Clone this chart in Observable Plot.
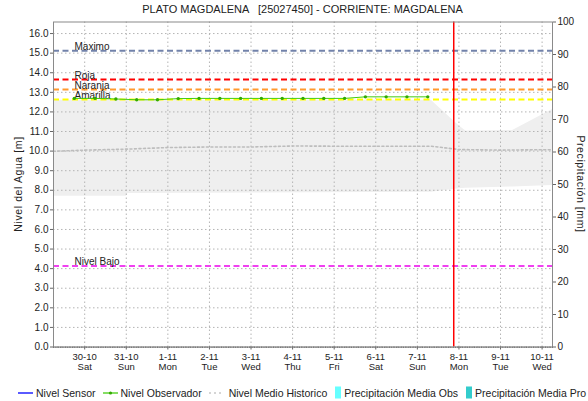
<!DOCTYPE html>
<html><head><meta charset="utf-8">
<script src="https://cdn.jsdelivr.net/npm/d3@7"></script>
<script src="https://cdn.jsdelivr.net/npm/@observablehq/plot@0.6"></script>
<style>
body{margin:0;background:#fff;font-family:"Liberation Sans",Arial,sans-serif;color:#222;}
#wrap{position:relative;width:588px;height:401px;overflow:hidden;}
#chart{position:absolute;left:0;top:0;}
#title{position:absolute;left:53px;width:499px;top:3px;text-align:center;font-size:11px;white-space:pre;color:#222;}
.ylab{position:absolute;white-space:nowrap;font-size:10.5px;letter-spacing:0.6px;color:#222;}
#legend{position:absolute;left:18px;top:386px;display:flex;align-items:center;font-size:10.5px;white-space:nowrap;color:#222;}
#legend .it{display:flex;align-items:center;margin-right:7px;}
#legend svg{margin-right:2px;}
</style></head>
<body>
<div id="wrap">
  <div id="chart"></div>
  <div id="title">PLATO MAGDALENA   [25027450] - CORRIENTE: MAGDALENA</div>
  <div class="ylab" style="left:18px;top:184px;transform:translate(-50%,-50%) rotate(-90deg);">Nivel del Agua [m]</div>
  <div class="ylab" style="left:581px;top:184px;transform:translate(-50%,-50%) rotate(90deg);">Precipitación [mm]</div>
  <div id="legend"></div>
</div>
<script>
// ---- data ----
const xDomain = ["2021-10-29T06:00", "2021-11-10T06:00"];
const dayDates = ["2021-10-30","2021-10-31","2021-11-01","2021-11-02","2021-11-03","2021-11-04","2021-11-05","2021-11-06","2021-11-07","2021-11-08","2021-11-09","2021-11-10"];
const dayLabels = ["30-10","31-10","1-11","2-11","3-11","4-11","5-11","6-11","7-11","8-11","9-11","10-11"];
const weekdays = ["Sat","Sun","Mon","Tue","Wed","Thu","Fri","Sat","Sun","Mon","Tue","Wed"];
const levelTicks = [0,1,2,3,4,5,6,7,8,9,10,11,12,13,14,15,16];
const precipTicks = [0,10,20,30,40,50,60,70,80,90,100];
const levelMax = 16.59;
const precipMax = 100;

const obsTimes = ["2021-10-29T18:00","2021-10-30T06:00","2021-10-30T18:00","2021-10-31T06:00","2021-10-31T18:00","2021-11-01T06:00","2021-11-01T18:00","2021-11-02T06:00","2021-11-02T18:00","2021-11-03T06:00","2021-11-03T18:00","2021-11-04T06:00","2021-11-04T18:00","2021-11-05T06:00","2021-11-05T18:00","2021-11-06T06:00","2021-11-06T18:00","2021-11-07T06:00"];
const obsValues = [12.69,12.69,12.66,12.62,12.62,12.68,12.69,12.69,12.69,12.69,12.69,12.69,12.69,12.69,12.77,12.77,12.77,12.77];

const bandTimes = ["2021-10-29T06:00","2021-10-31T00:00","2021-10-31T01:00","2021-11-07T08:00","2021-11-08T00:00","2021-11-08T04:00","2021-11-09T07:00","2021-11-10T06:00"];
const bandHigh = [12.6,12.6,12.6,12.6,11.3,11.03,11.05,12.12];
const bandLow = [7.69,7.69,7.83,7.9,8.08,8.1,8.17,8.25];

const meanTimes = ["2021-10-29T06:00","2021-10-30T00:00","2021-10-31T00:00","2021-11-01T00:00","2021-11-02T00:00","2021-11-03T00:00","2021-11-04T00:00","2021-11-05T00:00","2021-11-06T00:00","2021-11-07T00:00","2021-11-07T08:00","2021-11-08T00:00","2021-11-09T00:00","2021-11-10T00:00","2021-11-10T06:00"];
const meanValues = [9.99,10.05,10.1,10.18,10.21,10.21,10.26,10.25,10.25,10.25,10.25,10.08,10.05,10.07,10.07];

const thresholdNames = ["Maximo","Roja","Naranja","Amarilla","Nivel Bajo"];
const thresholdValues = [15.12,13.65,13.14,12.63,4.13];
const thresholdColors = ["#7282aa","#ff0000","#ff9a2e","#ffff00","#f040f0"];

const nowTime = "2021-11-07T21:00";

const legendNames = ["Nivel Sensor","Nivel Observador","Nivel Medio Historico","Precipitación Media Obs","Precipitación Media Pro"];
const legendColors = ["#0000ff","#44cc11","#c8c8c8","#66ffff","#33cccc"];

// ---- build ----
const t = s => new Date(s + (s.length === 10 ? "T00:00" : "") + "Z");
const obs = obsTimes.map((s, i) => ({time: t(s), value: obsValues[i]}));
const band = bandTimes.map((s, i) => ({time: t(s), low: bandLow[i], high: bandHigh[i]}));
const mean = meanTimes.map((s, i) => ({time: t(s), value: meanValues[i]}));
const thresholds = thresholdNames.map((n, i) => ({name: n, value: thresholdValues[i], color: thresholdColors[i]}));
const days = dayDates.map(t);
const labelMap = new Map(days.map((d, i) => [+d, dayLabels[i] + "\n" + weekdays[i]]));

const chart = Plot.plot({
  width: 588, height: 378,
  marginLeft: 53, marginRight: 36, marginTop: 21.5, marginBottom: 31.5,
  style: {fontFamily: '"Liberation Sans", Arial, sans-serif', fontSize: "10px", color: "#222", background: "transparent"},
  x: {type: "utc", domain: xDomain.map(t)},
  y: {domain: [0, levelMax]},
  color: {type: "identity"},
  marks: [
    Plot.areaY(band, {x: "time", y1: "low", y2: "high", fill: "#efefef"}),
    Plot.gridY(levelTicks, {stroke: "#b4b4b4", strokeOpacity: 1, strokeDasharray: "1.5,2.5"}),
    Plot.gridX(days, {stroke: "#b4b4b4", strokeOpacity: 1, strokeDasharray: "1.5,2.5"}),
    Plot.lineY(mean, {x: "time", y: "value", stroke: "#bdbdbd", strokeWidth: 1.6, strokeDasharray: "2,2.5"}),
    Plot.ruleY(thresholds, {y: "value", stroke: "color", strokeWidth: 2, strokeDasharray: "6,3.5"}),
    Plot.text(thresholds, {y: "value", text: "name", frameAnchor: "left", dx: 21, dy: -1, lineAnchor: "bottom", textAnchor: "start", fill: "#222", fontSize: 10}),
    Plot.line(obs, {x: "time", y: "value", stroke: "#44cc11", strokeWidth: 1}),
    Plot.dot(obs, {x: "time", y: "value", r: 1.7, fill: "#33aa00", stroke: null}),
    Plot.ruleX([t(nowTime)], {stroke: "#ff0000", strokeWidth: 1.5}),
    Plot.frame({stroke: "#8a8a8a"}),
    Plot.axisY(levelTicks, {anchor: "left", tickFormat: d => d.toFixed(1), tickSize: 3, tickPadding: 2, label: null, stroke: "#666"}),
    Plot.axisY(precipTicks.map(v => v * levelMax / precipMax), {anchor: "right", tickFormat: d => String(Math.round(d * precipMax / levelMax)), tickSize: 3, tickPadding: 2, label: null, stroke: "#666"}),
    Plot.axisX(days, {anchor: "bottom", tickFormat: d => labelMap.get(+d), tickSize: 3, tickPadding: 2, label: null, lineHeight: 1.12, fontSize: 9.5, stroke: "#666"}),
    Plot.axisX({anchor: "bottom", ticks: d3.utcHour.every(1), tickFormat: () => "", tickSize: 1.5, label: null, stroke: "#777"})
  ]
});
document.getElementById("chart").appendChild(chart);

// legend
const lg = document.getElementById("legend");
legendNames.forEach((name, i) => {
  const it = document.createElement("div");
  it.className = "it";
  let sw;
  if (i === 0) sw = `<svg width="16" height="12"><line x1="0" y1="6" x2="15" y2="6" stroke="${legendColors[i]}" stroke-width="1.3"/></svg>`;
  else if (i === 1) sw = `<svg width="16" height="12"><line x1="0" y1="6" x2="15" y2="6" stroke="${legendColors[i]}" stroke-width="1.3"/><circle cx="7.5" cy="6" r="1.6" fill="#33aa00"/></svg>`;
  else if (i === 2) sw = `<svg width="18" height="12"><line x1="0" y1="6" x2="15" y2="6" stroke="${legendColors[i]}" stroke-width="1.3" stroke-dasharray="2,3"/></svg>`;
  else sw = `<svg width="8" height="13"><rect x="1" y="0.5" width="6" height="12" fill="${legendColors[i]}"/></svg>`;
  it.innerHTML = sw + `<span>${name}</span>`;
  lg.appendChild(it);
});
</script>
</body></html>
